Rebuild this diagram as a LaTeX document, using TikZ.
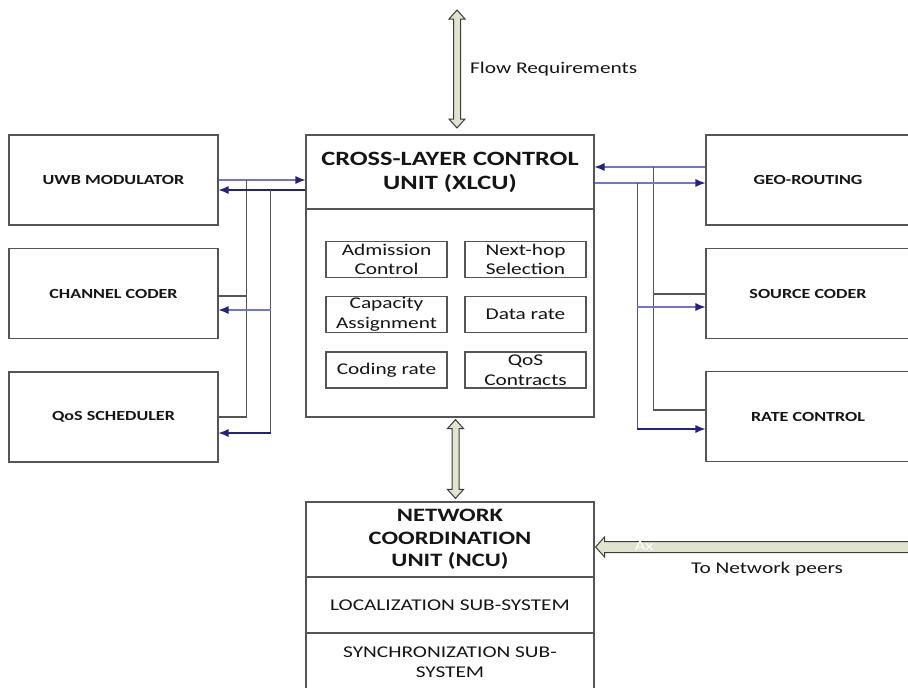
\documentclass[tikz,border=0pt]{standalone}
\usepackage{fontspec}
\setmainfont{Carlito}[FakeStretch=1.3]
\usetikzlibrary{arrows.meta,calc}
\definecolor{boxline}{HTML}{555555}
\definecolor{navy}{HTML}{23237E}
\definecolor{lightnavy}{HTML}{7474CC}
\definecolor{beige}{HTML}{E2E3CF}
\definecolor{arrline}{HTML}{3C3C3C}
\definecolor{txt}{HTML}{151515}
\newcommand\myvdbl[2]{\draw[dbl] let \p1=#1, \p2=#2 in
  (\x1,\y1) -- (\x1+8pt,\y1-9pt) -- (\x1+3.5pt,\y1-9pt) -- (\x1+3.5pt,\y2+9pt)
  -- (\x1+8pt,\y2+9pt) -- (\x1,\y2) -- (\x1-8pt,\y2+9pt) -- (\x1-3.5pt,\y2+9pt)
  -- (\x1-3.5pt,\y1-9pt) -- (\x1-8pt,\y1-9pt) -- cycle;}
\newcommand\myhleft[2]{\draw[dbl] let \p1=#1, \p2=#2 in
  (\x1,\y1) -- (\x1+9pt,\y1+10pt) -- (\x1+9pt,\y1+5.5pt) -- (\x2,\y1+5.5pt)
  -- (\x2,\y1-5.5pt) -- (\x1+9pt,\y1-5.5pt) -- (\x1+9pt,\y1-10pt) -- cycle;}
\begin{document}
\begin{tikzpicture}[x=1pt,y=-1pt,
  rect/.style={draw=boxline, line width=1.1pt, inner sep=0pt, align=center, text=txt},
  box/.style={rect, minimum width=209pt, minimum height=90pt, font=\bfseries\fontsize{13.9}{16}\selectfont},
  rbox/.style={box, minimum width=204pt},
  inbox/.style={rect, minimum width=121pt, minimum height=36pt, font=\fontsize{16.4}{19.5}\selectfont},
  bus/.style={draw=boxline, line width=1.1pt},
  sig/.style={draw=navy, line width=1.1pt, -{Latex[length=10pt,width=8pt,color=navy]}},
  dbl/.style={draw=arrline, fill=beige, line width=1pt, line join=miter},
  lbl/.style={text=txt, inner sep=0pt, font=\fontsize{16.4}{19}\selectfont}]
\useasboundingbox (0,0) rectangle (908,688);
\fill[white] (0,0) rectangle (908,688);

% left boxes
\node[box] (uwb)  at (113.5,180)   {UWB MODULATOR};
\node[box] (chan) at (113.5,293.5) {CHANNEL CODER};
\node[box] (qos)  at (113.5,417)   {QoS SCHEDULER};
% right boxes
\node[rbox] (geo)  at (808,180)   {GEO-ROUTING};
\node[rbox] (src)  at (808,293.5) {SOURCE CODER};
\node[rbox] (rate) at (808,416.5) {RATE CONTROL};

% XLCU
\node[rect, minimum width=288pt, minimum height=74pt, font=\bfseries\fontsize{20.3}{24}\selectfont] (xlcut) at (450,172) {CROSS-LAYER CONTROL\\UNIT (XLCU)};
\node[rect, minimum width=288pt, minimum height=208pt] (xlcu) at (450,313) {};
\node[inbox] (adm) at (386.5,259.5) {Admission\\Control};
\node[inbox] (nhs) at (525.5,259.5) {Next-hop\\Selection};
\node[inbox] (cap) at (386.5,314.5) {Capacity\\Assignment};
\node[inbox] (drt) at (525.5,314.5) {Data rate};
\node[inbox] (crt) at (386.5,370)   {Coding rate};
\node[inbox] (qsc) at (525.5,370)   {QoS\\Contracts};

% NCU
\node[rect, minimum width=288pt, minimum height=75pt, font=\bfseries\fontsize{18.9}{22.5}\selectfont] (ncu) at (450,539.5) {NETWORK\\COORDINATION\\UNIT (NCU)};
\node[rect, minimum width=288pt, minimum height=56pt, font=\fontsize{16.4}{20}\selectfont] (loc) at (450,605) {LOCALIZATION SUB-SYSTEM};
\node[rect, minimum width=288pt, minimum height=58pt, font=\fontsize{16.4}{20}\selectfont] (sync) at (450,662) {SYNCHRONIZATION SUB-\\SYSTEM};

% flow requirements
\coordinate (flowtop) at (457,10);
\coordinate (flowbot) at (457,128);
\myvdbl{(flowtop)}{(flowbot)}
\node[lbl, anchor=west] (flowlbl) at (470,69) {Flow Requirements};

% XLCU <-> NCU
\myvdbl{($(xlcu.south)+(5.5,2)$)}{($(ncu.north)+(5.5,-3)$)}

% network peers
\coordinate (peerend) at (920,547);
\myhleft{($(ncu.east |- peerend)+(1,0)$)}{(peerend)}
\node[text=white, inner sep=0pt, font=\fontsize{14}{15}\selectfont] (ax) at (644,546) {Ax};
\node[lbl] (peerlbl) at (767,569) {To Network peers};

% left connectors
\coordinate (lb1) at ($(uwb.east)+(28,0)$);
\draw[sig, draw=lightnavy] (uwb.east) -- (uwb.east -| xlcu.west);
\draw[bus] (lb1) |- (qos.east);
\coordinate (chin) at ($(chan.east)+(0,2.5)$);
\draw[bus] (chin -| lb1) -- (chin);
\coordinate (uwbin) at ($(uwb.east)+(0,10)$);
\coordinate (lb2) at ($(uwbin)+(52,0)$);
\draw[sig] (uwbin -| xlcu.west) -- (uwbin);
\coordinate (chout) at ($(chan.east)+(0,16.5)$);
\coordinate (qout) at ($(qos.east)+(0,16)$);
\draw[bus] (lb2) -- (lb2 |- qout);
\draw[sig, draw=lightnavy] (lb2 |- chout) -- (chout);
\draw[sig] (lb2 |- qout) -- (qout);

% right connectors
\coordinate (geoout) at ($(geo.west)+(0,-13)$);
\draw[sig, draw=lightnavy] (geoout) -- (geoout -| xlcu.east);
\coordinate (rb1) at ($(geoout)+(-52,0)$);
\coordinate (srcin) at ($(src.west)+(0,0.5)$);
\coordinate (ratein) at ($(rate.west)+(0,-6.5)$);
\draw[bus] (rb1) |- (ratein);
\draw[bus] (srcin -| rb1) -- (srcin);
\coordinate (geoin) at ($(geo.west)+(0,3)$);
\draw[sig, draw=lightnavy] (geoin -| xlcu.east) -- (geoin);
\coordinate (rb2) at ($(geoin)+(-68,0)$);
\coordinate (srcin2) at ($(src.west)+(0,13.5)$);
\coordinate (ratein2) at ($(rate.west)+(0,12.5)$);
\draw[bus] (rb2) -- (rb2 |- ratein2);
\draw[sig, draw=lightnavy] (rb2 |- srcin2) -- (srcin2);
\draw[sig] (rb2 |- ratein2) -- (ratein2);
\end{tikzpicture}
\end{document}
